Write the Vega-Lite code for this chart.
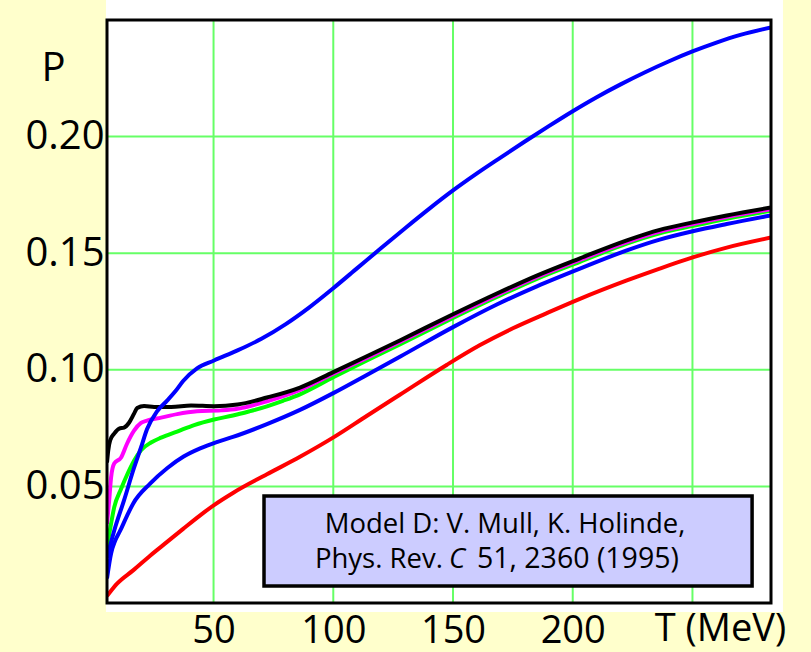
{
  "$schema": "https://vega.github.io/schema/vega-lite/v6.json",
  "width": 664,
  "height": 583,
  "autosize": "none",
  "padding": {"left": 107, "top": 20, "right": 40, "bottom": 49},
  "background": "#FFFFCC",
  "config": {"view": {"stroke": null}, "font": "Open Sans"},
  "datasets": {
    "curves": [
      {"series": "A", "T": 5.5, "P": 0.003}, {"series": "A", "T": 9.7, "P": 0.0083}, {"series": "A", "T": 16.4, "P": 0.014}, {"series": "A", "T": 23.5, "P": 0.0203}, {"series": "A", "T": 30.6, "P": 0.0262}, {"series": "A", "T": 37.3, "P": 0.0318}, {"series": "A", "T": 44.4, "P": 0.0376}, {"series": "A", "T": 50.2, "P": 0.042}, {"series": "A", "T": 58.1, "P": 0.0472}, {"series": "A", "T": 72.3, "P": 0.0552}, {"series": "A", "T": 86.1, "P": 0.0627}, {"series": "A", "T": 99.9, "P": 0.0709}, {"series": "A", "T": 114.1, "P": 0.0803}, {"series": "A", "T": 127.8, "P": 0.0893}, {"series": "A", "T": 147.5, "P": 0.1022}, {"series": "A", "T": 161.3, "P": 0.1106}, {"series": "A", "T": 175, "P": 0.1178}, {"series": "A", "T": 189.2, "P": 0.1243}, {"series": "A", "T": 203, "P": 0.1304}, {"series": "A", "T": 222.6, "P": 0.1383}, {"series": "A", "T": 236.3, "P": 0.1434}, {"series": "A", "T": 250.1, "P": 0.1482}, {"series": "A", "T": 264.3, "P": 0.1524}, {"series": "A", "T": 282.8, "P": 0.1567},
      {"series": "B", "T": 5.5, "P": 0.0105}, {"series": "B", "T": 7.2, "P": 0.0212}, {"series": "B", "T": 8.9, "P": 0.0267}, {"series": "B", "T": 11, "P": 0.031}, {"series": "B", "T": 13.9, "P": 0.0375}, {"series": "B", "T": 16.4, "P": 0.0426}, {"series": "B", "T": 23.5, "P": 0.0512}, {"series": "B", "T": 30.6, "P": 0.0578}, {"series": "B", "T": 37.5, "P": 0.0628}, {"series": "B", "T": 44.4, "P": 0.0663}, {"series": "B", "T": 51, "P": 0.0689}, {"series": "B", "T": 58.1, "P": 0.0712}, {"series": "B", "T": 72.3, "P": 0.0767}, {"series": "B", "T": 86.1, "P": 0.0828}, {"series": "B", "T": 100, "P": 0.09}, {"series": "B", "T": 114, "P": 0.0978}, {"series": "B", "T": 128, "P": 0.1057}, {"series": "B", "T": 150, "P": 0.1183}, {"series": "B", "T": 168.3, "P": 0.128}, {"series": "B", "T": 185, "P": 0.1358}, {"series": "B", "T": 203, "P": 0.1434}, {"series": "B", "T": 222.6, "P": 0.1512}, {"series": "B", "T": 236.3, "P": 0.1558}, {"series": "B", "T": 250.1, "P": 0.1594}, {"series": "B", "T": 264.3, "P": 0.1625}, {"series": "B", "T": 282.8, "P": 0.1662},
      {"series": "C", "T": 5.5, "P": 0.0237}, {"series": "C", "T": 7.2, "P": 0.034}, {"series": "C", "T": 8.5, "P": 0.041}, {"series": "C", "T": 11.4, "P": 0.049}, {"series": "C", "T": 13.9, "P": 0.055}, {"series": "C", "T": 16.8, "P": 0.061}, {"series": "C", "T": 19.7, "P": 0.0655}, {"series": "C", "T": 23.9, "P": 0.0688}, {"series": "C", "T": 28.1, "P": 0.0709}, {"series": "C", "T": 34.8, "P": 0.0735}, {"series": "C", "T": 41.9, "P": 0.0763}, {"series": "C", "T": 50.2, "P": 0.0787}, {"series": "C", "T": 58.1, "P": 0.0804}, {"series": "C", "T": 65.3, "P": 0.0823}, {"series": "C", "T": 72.3, "P": 0.0843}, {"series": "C", "T": 79, "P": 0.0867}, {"series": "C", "T": 86.1, "P": 0.0895}, {"series": "C", "T": 100, "P": 0.0968}, {"series": "C", "T": 114, "P": 0.104}, {"series": "C", "T": 128, "P": 0.111}, {"series": "C", "T": 150, "P": 0.1222}, {"series": "C", "T": 168.3, "P": 0.1312}, {"series": "C", "T": 185, "P": 0.139}, {"series": "C", "T": 203, "P": 0.1463}, {"series": "C", "T": 222.6, "P": 0.1541}, {"series": "C", "T": 236.3, "P": 0.1585}, {"series": "C", "T": 250.1, "P": 0.1617}, {"series": "C", "T": 264.3, "P": 0.1648}, {"series": "C", "T": 282.8, "P": 0.1682},
      {"series": "D", "T": 5.5, "P": 0.034}, {"series": "D", "T": 6.4, "P": 0.0439}, {"series": "D", "T": 7.2, "P": 0.0538}, {"series": "D", "T": 8.5, "P": 0.0598}, {"series": "D", "T": 11.4, "P": 0.0624}, {"series": "D", "T": 13.9, "P": 0.0684}, {"series": "D", "T": 16.8, "P": 0.0739}, {"series": "D", "T": 19.7, "P": 0.0772}, {"series": "D", "T": 22.2, "P": 0.0782}, {"series": "D", "T": 28.1, "P": 0.0795}, {"series": "D", "T": 34.8, "P": 0.081}, {"series": "D", "T": 43.1, "P": 0.0822}, {"series": "D", "T": 53.1, "P": 0.0826}, {"series": "D", "T": 60, "P": 0.0833}, {"series": "D", "T": 72.3, "P": 0.0865}, {"series": "D", "T": 86.1, "P": 0.0914}, {"series": "D", "T": 100, "P": 0.0983}, {"series": "D", "T": 114, "P": 0.1051}, {"series": "D", "T": 128, "P": 0.112}, {"series": "D", "T": 150, "P": 0.1231}, {"series": "D", "T": 168.3, "P": 0.132}, {"series": "D", "T": 185, "P": 0.1397}, {"series": "D", "T": 203, "P": 0.1471}, {"series": "D", "T": 222.6, "P": 0.1548}, {"series": "D", "T": 236.3, "P": 0.1593}, {"series": "D", "T": 250.1, "P": 0.1625}, {"series": "D", "T": 264.3, "P": 0.1655}, {"series": "D", "T": 282.8, "P": 0.1689},
      {"series": "E", "T": 5.5, "P": 0.0602}, {"series": "E", "T": 6, "P": 0.0653}, {"series": "E", "T": 6.8, "P": 0.0697}, {"series": "E", "T": 8.5, "P": 0.0726}, {"series": "E", "T": 10.6, "P": 0.0748}, {"series": "E", "T": 12.6, "P": 0.0752}, {"series": "E", "T": 14.7, "P": 0.0773}, {"series": "E", "T": 16.8, "P": 0.0812}, {"series": "E", "T": 18.1, "P": 0.0836}, {"series": "E", "T": 21, "P": 0.0845}, {"series": "E", "T": 25.2, "P": 0.0841}, {"series": "E", "T": 32.3, "P": 0.0840}, {"series": "E", "T": 40.6, "P": 0.0847}, {"series": "E", "T": 50.2, "P": 0.0844}, {"series": "E", "T": 60, "P": 0.0851}, {"series": "E", "T": 72.3, "P": 0.0881}, {"series": "E", "T": 86.1, "P": 0.0924}, {"series": "E", "T": 100, "P": 0.099}, {"series": "E", "T": 114, "P": 0.1058}, {"series": "E", "T": 128, "P": 0.1127}, {"series": "E", "T": 150, "P": 0.1238}, {"series": "E", "T": 168.3, "P": 0.1327}, {"series": "E", "T": 185, "P": 0.1404}, {"series": "E", "T": 203, "P": 0.1478}, {"series": "E", "T": 222.6, "P": 0.1555}, {"series": "E", "T": 236.3, "P": 0.16}, {"series": "E", "T": 250.1, "P": 0.1632}, {"series": "E", "T": 264.3, "P": 0.1662}, {"series": "E", "T": 282.8, "P": 0.1696},
      {"series": "F", "T": 5.5, "P": 0.0194}, {"series": "F", "T": 8.5, "P": 0.031}, {"series": "F", "T": 12.6, "P": 0.044}, {"series": "F", "T": 16.8, "P": 0.058}, {"series": "F", "T": 19.7, "P": 0.0667}, {"series": "F", "T": 22.2, "P": 0.0745}, {"series": "F", "T": 26.4, "P": 0.0822}, {"series": "F", "T": 30.6, "P": 0.0868}, {"series": "F", "T": 34.3, "P": 0.0911}, {"series": "F", "T": 37.3, "P": 0.0952}, {"series": "F", "T": 43.1, "P": 0.1006}, {"series": "F", "T": 50.2, "P": 0.104}, {"series": "F", "T": 60, "P": 0.1083}, {"series": "F", "T": 70, "P": 0.1133}, {"series": "F", "T": 80, "P": 0.1195}, {"series": "F", "T": 90, "P": 0.1268}, {"series": "F", "T": 100, "P": 0.135}, {"series": "F", "T": 110, "P": 0.1436}, {"series": "F", "T": 120, "P": 0.1522}, {"series": "F", "T": 130, "P": 0.1607}, {"series": "F", "T": 140, "P": 0.169}, {"series": "F", "T": 150, "P": 0.1769}, {"series": "F", "T": 160, "P": 0.1842}, {"series": "F", "T": 170, "P": 0.1911}, {"series": "F", "T": 180, "P": 0.1979}, {"series": "F", "T": 190, "P": 0.2045}, {"series": "F", "T": 200, "P": 0.2109}, {"series": "F", "T": 210, "P": 0.2169}, {"series": "F", "T": 220, "P": 0.2224}, {"series": "F", "T": 230, "P": 0.2275}, {"series": "F", "T": 240, "P": 0.2322}, {"series": "F", "T": 250, "P": 0.2365}, {"series": "F", "T": 260, "P": 0.2403}, {"series": "F", "T": 270, "P": 0.2436}, {"series": "F", "T": 282.8, "P": 0.2468}
    ]
  },
  "layer": [
    {
      "data": {"values": [{}]},
      "mark": {"type": "rect", "fill": "white", "clip": false},
      "encoding": {
        "x": {"datum": 5.08, "type": "quantitative", "title": "T (MeV)", "scale": {"domain": [5.5, 282.8], "nice": false, "zero": false},
          "axis": {"values": [50, 100, 150, 200, 250], "labelExpr": "datum.value == 250 ? '' : datum.label", "grid": false, "ticks": false, "tickSize": 0, "domain": false, "labelFontSize": 38, "labelColor": "black", "labelBaseline": "alphabetic", "labelPadding": 39, "labelFlush": false, "labelOverlap": false,
            "titleFontSize": 38, "titleFontWeight": "normal", "titleColor": "black", "titleX": 613, "titleY": 37, "titleBaseline": "alphabetic", "titleAlign": "center", "titleAnchor": null}},
        "x2": {"datum": 287.8},
        "y": {"datum": 0.2586, "type": "quantitative", "title": "P", "scale": {"domain": [0, 0.25], "nice": false, "zero": false},
          "axis": {"values": [0.05, 0.1, 0.15, 0.2], "format": ".2f", "grid": false, "ticks": false, "tickSize": 0, "domain": false, "labelFontSize": 40, "labelColor": "black", "labelPadding": 3, "labelBaseline": "middle", "labelFlush": false, "labelOverlap": false,
            "titleAngle": 0, "titleFontSize": 40, "titleFontWeight": "normal", "titleColor": "black", "titleX": -54, "titleY": 60, "titleBaseline": "alphabetic", "titleAlign": "center", "titleAnchor": null}},
        "y2": {"datum": -0.0039}
      }
    },
    {
      "data": {"values": [{"T": 50}, {"T": 100}, {"T": 150}, {"T": 200}, {"T": 250}]},
      "mark": {"type": "rule", "color": "#66FF66", "strokeWidth": 2},
      "encoding": {"x": {"field": "T", "type": "quantitative", "title": "T (MeV)"}}
    },
    {
      "data": {"values": [{"P": 0.05}, {"P": 0.1}, {"P": 0.15}, {"P": 0.2}]},
      "mark": {"type": "rule", "color": "#66FF66", "strokeWidth": 2},
      "encoding": {"y": {"field": "P", "type": "quantitative", "title": "P"}}
    },
    {
      "data": {"name": "curves"}, "transform": [{"filter": "datum.series == 'A'"}],
      "mark": {"type": "line", "color": "#FF0000", "strokeWidth": 4, "interpolate": "monotone", "clip": true},
      "encoding": {"x": {"field": "T", "type": "quantitative", "title": "T (MeV)"}, "y": {"field": "P", "type": "quantitative", "title": "P"}}
    },
    {
      "data": {"name": "curves"}, "transform": [{"filter": "datum.series == 'B'"}],
      "mark": {"type": "line", "color": "#0000FF", "strokeWidth": 4, "interpolate": "monotone", "clip": true},
      "encoding": {"x": {"field": "T", "type": "quantitative", "title": "T (MeV)"}, "y": {"field": "P", "type": "quantitative", "title": "P"}}
    },
    {
      "data": {"name": "curves"}, "transform": [{"filter": "datum.series == 'C'"}],
      "mark": {"type": "line", "color": "#00FF00", "strokeWidth": 4, "interpolate": "monotone", "clip": true},
      "encoding": {"x": {"field": "T", "type": "quantitative", "title": "T (MeV)"}, "y": {"field": "P", "type": "quantitative", "title": "P"}}
    },
    {
      "data": {"name": "curves"}, "transform": [{"filter": "datum.series == 'D'"}],
      "mark": {"type": "line", "color": "#FF00FF", "strokeWidth": 4, "interpolate": "monotone", "clip": true},
      "encoding": {"x": {"field": "T", "type": "quantitative", "title": "T (MeV)"}, "y": {"field": "P", "type": "quantitative", "title": "P"}}
    },
    {
      "data": {"name": "curves"}, "transform": [{"filter": "datum.series == 'E'"}],
      "mark": {"type": "line", "color": "#000000", "strokeWidth": 4, "interpolate": "monotone", "clip": true},
      "encoding": {"x": {"field": "T", "type": "quantitative", "title": "T (MeV)"}, "y": {"field": "P", "type": "quantitative", "title": "P"}}
    },
    {
      "data": {"name": "curves"}, "transform": [{"filter": "datum.series == 'F'"}],
      "mark": {"type": "line", "color": "#0000FF", "strokeWidth": 4, "interpolate": "monotone", "clip": true},
      "encoding": {"x": {"field": "T", "type": "quantitative", "title": "T (MeV)"}, "y": {"field": "P", "type": "quantitative", "title": "P"}}
    },
    {
      "data": {"values": [{}]},
      "mark": {"type": "rect", "fill": "#CCCCFF", "stroke": "black", "strokeWidth": 3.5},
      "encoding": {"x": {"datum": 71.07, "type": "quantitative", "title": "T (MeV)"}, "x2": {"datum": 274.9}, "y": {"datum": 0.0459, "type": "quantitative", "title": "P"}, "y2": {"datum": 0.0073}}
    },
    {
      "data": {"values": [{}]},
      "mark": {"type": "text", "text": "Model D: V. Mull, K. Holinde,", "fontSize": 27.5, "align": "center", "baseline": "alphabetic", "color": "black"},
      "encoding": {"x": {"datum": 171.7, "type": "quantitative", "title": "T (MeV)"}, "y": {"datum": 0.03, "type": "quantitative", "title": "P"}}
    },
    {
      "data": {"values": [{}]},
      "mark": {"type": "text", "text": "Phys. Rev.", "fontSize": 27.5, "align": "right", "baseline": "alphabetic", "color": "black"},
      "encoding": {"x": {"datum": 145.8, "type": "quantitative", "title": "T (MeV)"}, "y": {"datum": 0.015, "type": "quantitative", "title": "P"}}
    },
    {
      "data": {"values": [{}]},
      "mark": {"type": "text", "text": "C", "fontSize": 27.5, "fontStyle": "italic", "align": "left", "baseline": "alphabetic", "color": "black"},
      "encoding": {"x": {"datum": 148.3, "type": "quantitative", "title": "T (MeV)"}, "y": {"datum": 0.015, "type": "quantitative", "title": "P"}}
    },
    {
      "data": {"values": [{}]},
      "mark": {"type": "text", "text": "51, 2360 (1995)", "fontSize": 28.5, "align": "left", "baseline": "alphabetic", "color": "black"},
      "encoding": {"x": {"datum": 160.0, "type": "quantitative", "title": "T (MeV)"}, "y": {"datum": 0.015, "type": "quantitative", "title": "P"}}
    },
    {
      "data": {"values": [{}]},
      "mark": {"type": "rect", "fill": null, "fillOpacity": 0, "stroke": "black", "strokeWidth": 3, "clip": false},
      "encoding": {"x": {"datum": 5.5, "type": "quantitative", "title": "T (MeV)"}, "x2": {"datum": 282.8}, "y": {"datum": 0.25, "type": "quantitative", "title": "P"}, "y2": {"datum": 0}}
    }
  ]
}
